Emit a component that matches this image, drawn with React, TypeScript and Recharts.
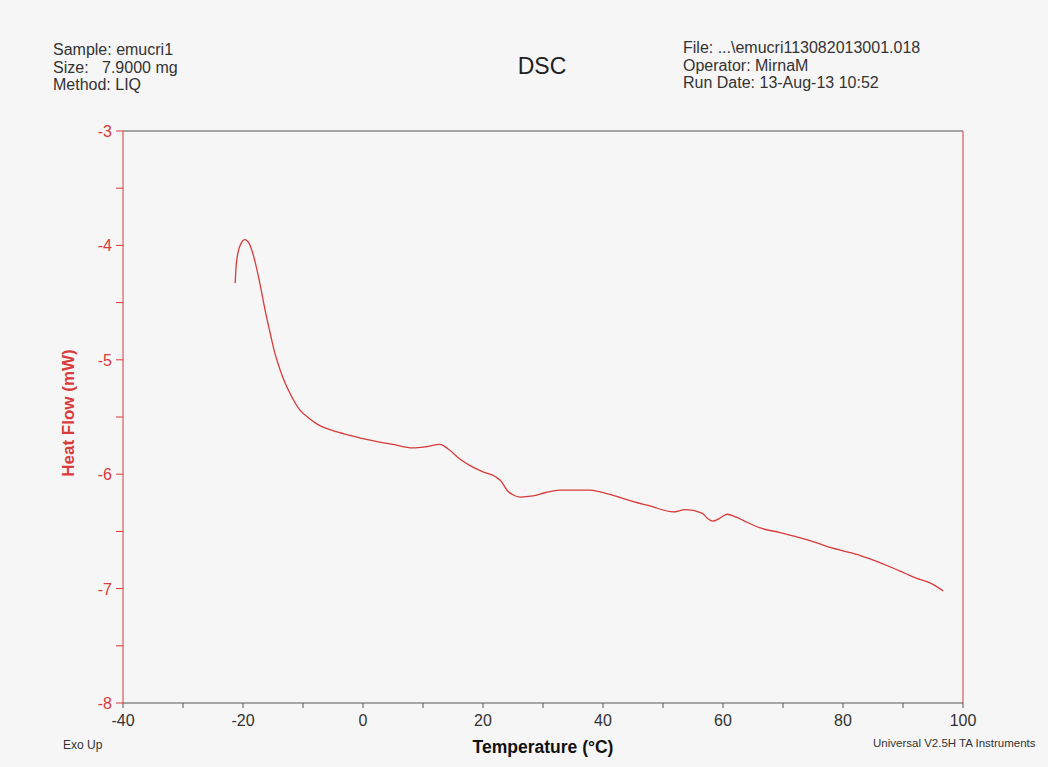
import { LineChart, Line, XAxis, YAxis, ReferenceLine } from "recharts";

// DSC run
const temperature = [
  -21.3, -21.2, -20.9, -20.3, -19.7, -19.0, -18.2, -17.2, -16.3, -15.5, -14.7,
  -13.8, -13.0, -12.2, -10.5, -9.0, -7.7, -5.0, -2.2, 0, 2.8, 5.0, 8.3, 10.5,
  12.8, 14.2, 16.2, 18.0, 20.0, 22.0, 23.0, 24.0, 25.0, 26.2, 28.3, 30.5, 32.8,
  35.0, 37.8, 39.2, 42.0, 44.5, 48.0, 51.7, 53.7, 56.5, 57.5, 58.3, 59.3, 60.7,
  62.0, 64.0, 66.2, 69.5, 71.7, 74.5, 77.3, 80.0, 82.8, 85.5, 88.3, 90.5, 92.3,
  94.5, 96.7,
];
const heatFlow = [
  -4.33, -4.22, -4.08, -3.98, -3.95, -3.98, -4.1, -4.33, -4.57, -4.76, -4.94,
  -5.09, -5.2, -5.29, -5.44, -5.51, -5.56, -5.62, -5.66, -5.69, -5.72, -5.74,
  -5.77, -5.76, -5.74, -5.78, -5.87, -5.93, -5.98, -6.02, -6.06, -6.14, -6.18,
  -6.2, -6.19, -6.16, -6.14, -6.14, -6.14, -6.15, -6.19, -6.23, -6.28, -6.33,
  -6.31, -6.34, -6.39, -6.41, -6.39, -6.35, -6.37, -6.42, -6.47, -6.51, -6.54,
  -6.58, -6.63, -6.67, -6.71, -6.76, -6.82, -6.87, -6.91, -6.95, -7.02,
];

const xTicks = [-40, -30, -20, -10, 0, 10, 20, 30, 40, 50, 60, 70, 80, 90, 100];
const yTicks = [-8, -7.5, -7, -6.5, -6, -5.5, -5, -4.5, -4, -3.5, -3];

const data = temperature.map((t, i) => ({ t, hf: heatFlow[i] }));

const RED = "#d93a3a";
const FONT = "'Liberation Sans', Arial, sans-serif";

function XTick({ x, y, payload }: any) {
  const v = payload.value;
  return (
    <g>
      <line x1={x} x2={x} y1={y} y2={y + 5} stroke="#555" />
      {v % 20 === 0 && (
        <text x={x} y={y + 23} textAnchor="middle" fontSize={16} fill="#333" fontFamily={FONT}>
          {v}
        </text>
      )}
    </g>
  );
}

function YTick({ x, y, payload }: any) {
  const v = payload.value;
  return (
    <g>
      <line x1={x - 7} x2={x} y1={y} y2={y} stroke={RED} />
      {Number.isInteger(v) && (
        <text x={x - 11} y={y + 6} textAnchor="end" fontSize={16} fill={RED} fontFamily={FONT}>
          {v}
        </text>
      )}
    </g>
  );
}

export default function App() {
  return (
    <div
      style={{
        position: "absolute",
        top: 0,
        left: 0,
        width: 1048,
        height: 767,
        background: "#f6f6f6",
        fontFamily: FONT,
      }}
    >
      <LineChart
        width={1048}
        height={767}
        data={data}
        margin={{ top: 131, right: 85, bottom: 34, left: 83 }}
      >
        <XAxis
          dataKey="t"
          type="number"
          domain={[-40, 100]}
          ticks={xTicks}
          interval={0}
          height={30}
          tickSize={0}
          tickMargin={0}
          tickLine={false}
          axisLine={{ stroke: "#555" }}
          tick={<XTick />}
        />
        <YAxis
          type="number"
          domain={[-8, -3]}
          ticks={yTicks}
          interval={0}
          width={40}
          tickSize={0}
          tickMargin={0}
          tickLine={false}
          axisLine={{ stroke: RED }}
          tick={<YTick />}
        />
        <ReferenceLine y={-3} stroke="#555" />
        <ReferenceLine x={100} stroke={RED} />
        <Line
          dataKey="hf"
          type="monotoneX"
          stroke={RED}
          strokeWidth={1.3}
          dot={false}
          isAnimationActive={false}
        />
      </LineChart>
      <svg
        width={1048}
        height={767}
        style={{ position: "absolute", top: 0, left: 0, pointerEvents: "none" }}
        fontFamily={FONT}
      >
        <g fontSize={16} fill="#333">
          <text x={53} y={55}>Sample: emucri1</text>
          <text x={53} y={73}>
            Size:<tspan x={102}>7.9000 mg</tspan>
          </text>
          <text x={53} y={90}>Method: LIQ</text>
          <text x={683} y={53}>File: ...\emucri113082013001.018</text>
          <text x={683} y={71}>Operator: MirnaM</text>
          <text x={683} y={88}>Run Date: 13-Aug-13 10:52</text>
        </g>
        <text x={542} y={74} textAnchor="middle" fontSize={23} fill="#222">
          DSC
        </text>
        <text
          x={74}
          y={413}
          transform="rotate(-90 74 413)"
          textAnchor="middle"
          fontSize={17}
          fontWeight="bold"
          fill={RED}
        >
          Heat Flow (mW)
        </text>
        <text x={543} y={753} textAnchor="middle" fontSize={17.5} fontWeight="bold" fill="#111">
          Temperature (°C)
        </text>
        <text x={63} y={749} fontSize={12} fill="#333">
          Exo Up
        </text>
        <text x={873} y={747} fontSize={11.5} fill="#333">
          Universal V2.5H TA Instruments
        </text>
      </svg>
    </div>
  );
}
